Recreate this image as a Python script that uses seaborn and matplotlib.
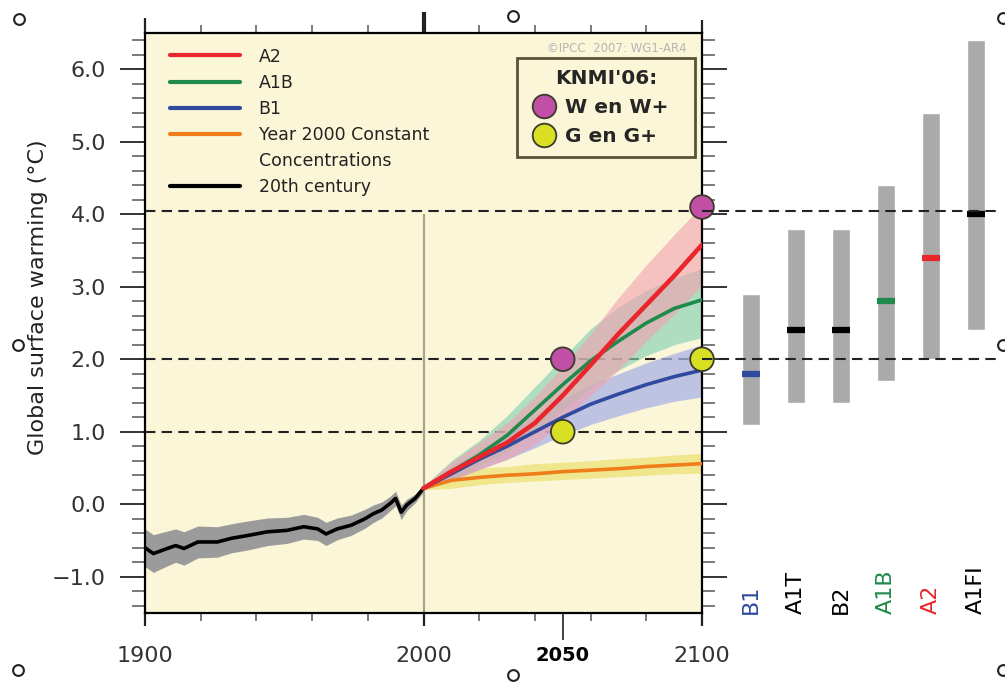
import numpy as np
import pandas as pd
import matplotlib
matplotlib.use("Agg")
import matplotlib.pyplot as plt
import seaborn as sns
from matplotlib.lines import Line2D
from matplotlib.ticker import MultipleLocator, FuncFormatter

# =====================================================
# DATA
# =====================================================

hist_years = [1900, 1903, 1908, 1911, 1914, 1919, 1926, 1931, 1937, 1944, 1951,
              1957, 1962, 1965, 1969, 1974, 1979, 1982, 1985, 1988, 1990, 1992,
              1994, 1997, 2000]
hist_temp = [-0.60, -0.68, -0.61, -0.57, -0.61, -0.52, -0.52, -0.47, -0.43, -0.38,
             -0.36, -0.31, -0.34, -0.41, -0.34, -0.29, -0.20, -0.13, -0.08, 0.01,
             0.08, -0.11, -0.01, 0.08, 0.22]
hist_spread = [0.26, 0.26, 0.24, 0.23, 0.23, 0.22, 0.21, 0.2, 0.2, 0.19, 0.18,
               0.17, 0.16, 0.16, 0.15, 0.14, 0.13, 0.12, 0.11, 0.1, 0.1, 0.1,
               0.08, 0.06, 0.05]

proj_years = [2000, 2010, 2020, 2030, 2040, 2050, 2060, 2070, 2080, 2090, 2100]
a2 = [0.22, 0.45, 0.65, 0.85, 1.12, 1.50, 1.92, 2.35, 2.75, 3.15, 3.58]
a2_lo = [0.20, 0.33, 0.48, 0.62, 0.82, 1.15, 1.50, 1.85, 2.25, 2.62, 3.02]
a2_hi = [0.25, 0.58, 0.85, 1.12, 1.48, 1.90, 2.35, 2.85, 3.30, 3.72, 4.12]
a1b = [0.22, 0.45, 0.68, 0.95, 1.30, 1.65, 1.98, 2.25, 2.50, 2.70, 2.82]
a1b_lo = [0.20, 0.35, 0.52, 0.72, 1.00, 1.30, 1.60, 1.85, 2.05, 2.20, 2.30]
a1b_hi = [0.25, 0.60, 0.88, 1.22, 1.62, 2.02, 2.42, 2.72, 2.95, 3.12, 3.25]
b1 = [0.22, 0.42, 0.62, 0.80, 1.00, 1.20, 1.38, 1.52, 1.65, 1.76, 1.85]
b1_lo = [0.20, 0.33, 0.48, 0.62, 0.78, 0.95, 1.10, 1.22, 1.33, 1.42, 1.48]
b1_hi = [0.25, 0.52, 0.75, 0.98, 1.22, 1.45, 1.65, 1.80, 1.95, 2.08, 2.20]
const = [0.22, 0.33, 0.37, 0.40, 0.42, 0.45, 0.47, 0.49, 0.52, 0.54, 0.56]
const_lo = [0.20, 0.22, 0.27, 0.30, 0.32, 0.34, 0.36, 0.38, 0.40, 0.42, 0.43]
const_hi = [0.25, 0.45, 0.50, 0.52, 0.56, 0.58, 0.60, 0.63, 0.65, 0.68, 0.70]

# KNMI'06 scenario points
knmi_years = [2050, 2100, 2050, 2100]
knmi_temp = [2.0, 4.1, 1.0, 2.0]
knmi_group = ["W en W+", "W en W+", "G en G+", "G en G+"]

# dashed reference levels
ref_levels = [1.0, 2.0, 4.05]

# likely ranges at 2100 per SRES marker scenario
sres_names = ["B1", "A1T", "B2", "A1B", "A2", "A1FI"]
sres_low = [1.1, 1.4, 1.4, 1.7, 2.0, 2.4]
sres_high = [2.9, 3.8, 3.8, 4.4, 5.4, 6.4]
sres_best = [1.8, 2.4, 2.4, 2.8, 3.4, 4.0]

# =====================================================
# STYLE
# =====================================================

RED = "#e8262b"
GREEN = "#1f8a4c"
BLUE = "#2f4a9e"
ORANGE = "#f07d1c"
BG = "#fbf6d8"
PINK = "#c24fa6"
YELLOW = "#d9e024"

sres_colors = [BLUE, "black", "black", GREEN, RED, "black"]

sns.set_theme(style="ticks")
plt.rcParams["font.family"] = ["DejaVu Sans"]

fig = plt.figure(figsize=(10.05, 6.84), dpi=100)
ax = fig.add_axes([145 / 1005, 1 - 613 / 684, 557 / 1005, 580 / 684])
ax.set_facecolor(BG)

# =====================================================
# BANDS + LINES
# =====================================================

h_lo = [t - s for t, s in zip(hist_temp, hist_spread)]
h_hi = [t + s for t, s in zip(hist_temp, hist_spread)]
ax.fill_between(hist_years, h_lo, h_hi, color="#9b9b9b", lw=0, zorder=2)

ax.fill_between(proj_years, const_lo, const_hi, color="#eee27a", alpha=0.8, lw=0, zorder=2)
ax.fill_between(proj_years, b1_lo, b1_hi, color="#a9b3e3", alpha=0.75, lw=0, zorder=2)
ax.fill_between(proj_years, a1b_lo, a1b_hi, color="#86d1b4", alpha=0.65, lw=0, zorder=2)
ax.fill_between(proj_years, a2_lo, a2_hi, color="#f2a0b0", alpha=0.6, lw=0, zorder=2)

df = pd.concat([
    pd.DataFrame({"year": hist_years, "temp": hist_temp, "scenario": "20th century"}),
    pd.DataFrame({"year": proj_years, "temp": const, "scenario": "const"}),
    pd.DataFrame({"year": proj_years, "temp": b1, "scenario": "B1"}),
    pd.DataFrame({"year": proj_years, "temp": a1b, "scenario": "A1B"}),
    pd.DataFrame({"year": proj_years, "temp": a2, "scenario": "A2"}),
])
palette = {"20th century": "black", "const": ORANGE, "B1": BLUE, "A1B": GREEN, "A2": RED}
for i, (name, sub) in enumerate(df.groupby("scenario", sort=False)):
    sns.lineplot(data=sub, x="year", y="temp", color=palette[name],
                 lw=3.3 if name == "A2" else 2.6, estimator=None,
                 ax=ax, zorder=3 + i, legend=False)

# vertical marker at 2000 and dashed levels
ax.vlines(2000, -1.5, 4.0, color="#a9a48a", lw=1.6, zorder=1)
for lev in ref_levels:
    ax.axhline(lev, color="#222222", lw=1.5, ls=(0, (5, 3)), zorder=1)

# KNMI points
sns.scatterplot(x=knmi_years, y=knmi_temp, hue=knmi_group,
                palette={"W en W+": PINK, "G en G+": YELLOW},
                s=290, edgecolor="#3b3b2b", linewidth=1.3, ax=ax,
                legend=False, zorder=10, clip_on=False)

# =====================================================
# AXES
# =====================================================

ax.set_xlim(1900, 2100)
ax.set_ylim(-1.5, 6.5)
ax.set_xlabel("")
ax.set_ylabel("Global surface warming (°C)", fontsize=16, color="#222222")
ax.yaxis.set_label_coords(-0.175, 0.545)

ax.set_xticks([1900, 2000, 2050, 2100])
ax.set_xticklabels(["1900", "2000", "2050", "2100"])
ax.xaxis.set_minor_locator(MultipleLocator(20))
ax.yaxis.set_major_locator(MultipleLocator(1))
ax.yaxis.set_minor_locator(MultipleLocator(0.2))
ax.yaxis.set_major_formatter(FuncFormatter(lambda v, p: f"{v:.1f}".replace("-", "\u2212")))

for s in ax.spines.values():
    s.set_visible(True)
    s.set_linewidth(1.6)
    s.set_color("black")

ax.tick_params(axis="y", which="major", direction="out", length=18, width=1.4,
               left=True, right=True, labelsize=16, labelcolor="#333333",
               color="#333333", pad=10)
ax.tick_params(axis="y", which="minor", direction="out", length=9.5, width=1.1,
               left=True, right=True, color="#555555")
ax.tick_params(axis="x", which="major", direction="out", length=9.5, width=1.6,
               bottom=True, top=True, labelsize=16, labelcolor="#333333",
               color="#222222", pad=14)
ax.tick_params(axis="x", which="minor", direction="out", length=5.5, width=1.1,
               bottom=True, top=True, color="#555555")

xt = ax.xaxis.get_major_ticks()
# 2000: thick top tick
xt[1].tick2line.set_markersize(15)
xt[1].tick2line.set_markeredgewidth(3)
# 2050: long bottom tick, bold label, no top tick
xt[2].tick1line.set_markersize(19.5)
xt[2].tick1line.set_markeredgewidth(1.2)
xt[2].tick2line.set_visible(False)
xt[0].tick2line.set_markersize(11)
lab = ax.get_xticklabels()[2]
lab.set_fontweight("bold")
lab.set_fontsize(14)
lab.set_color("black")

# =====================================================
# LEGENDS
# =====================================================

handles = [
    Line2D([], [], color=RED, lw=3),
    Line2D([], [], color=GREEN, lw=3),
    Line2D([], [], color=BLUE, lw=3),
    Line2D([], [], color=ORANGE, lw=3),
    Line2D([], [], color="none", lw=3),
    Line2D([], [], color="black", lw=3),
]
labels = ["A2", "A1B", "B1", "Year 2000 Constant", "Concentrations", "20th century"]
leg1 = ax.legend(handles, labels, loc="upper left", bbox_to_anchor=(0.045, 0.975),
                 frameon=False, fontsize=12.5, handlelength=4.0, handletextpad=1.1,
                 labelspacing=0.47, borderaxespad=0, borderpad=0)
for t in leg1.get_texts():
    t.set_color("#222222")

k_handles = [
    Line2D([], [], marker="o", ls="none", markersize=17, markerfacecolor=PINK,
           markeredgecolor="#3b3b2b", markeredgewidth=1.3),
    Line2D([], [], marker="o", ls="none", markersize=17, markerfacecolor=YELLOW,
           markeredgecolor="#3b3b2b", markeredgewidth=1.3),
]
box_x0 = (517 - 145) / 557
box_w = 178 / 557
box_h = 100 / 580
leg2 = ax.legend(k_handles, ["W en W+", "G en G+"], title="KNMI'06:",
                 loc="upper left", bbox_to_anchor=(box_x0, 0.957 - box_h, box_w, box_h),
                 mode="expand", borderaxespad=0,
                 frameon=True, fancybox=False, edgecolor="#5b5337", facecolor=BG,
                 framealpha=1, prop={"weight": "bold", "size": 14.5},
                 title_fontproperties={"weight": "bold", "size": 14.5},
                 handletextpad=0.25, handlelength=1.6, borderpad=0.55,
                 labelspacing=0.5)
leg2.get_frame().set_linewidth(2)
leg2.set_zorder(11)
ax.add_artist(leg1)

ax.text(0.973, 0.974, "©IPCC  2007: WG1-AR4", transform=ax.transAxes,
        ha="right", va="center", fontsize=8.5, color="#b5b5b5")

# =====================================================
# RIGHT PANEL: 2100 ranges
# =====================================================

ax2 = fig.add_axes([702 / 1005, 1 - 613 / 684, 303 / 1005, 580 / 684])
ax2.set_xlim(-1.089, 5.644)
ax2.set_ylim(-1.5, 6.5)
ax2.patch.set_visible(False)
ax2.axis("off")

xpos = np.arange(len(sres_names))
ax2.bar(xpos, np.array(sres_high) - np.array(sres_low), bottom=sres_low,
        width=0.4, color="#aaaaaa", zorder=1)
ax2.hlines(sres_best, xpos - 0.2, xpos + 0.2, colors=sres_colors, lw=4.5, zorder=2)
for lev in ref_levels[1:]:
    ax2.axhline(lev, xmin=0, xmax=0.985, color="#222222", lw=1.5, ls=(0, (5, 3)), zorder=3)
for x, name, c in zip(xpos, sres_names, sres_colors):
    ax2.text(x, -1.52, name, rotation=90, ha="center", va="bottom",
             fontsize=16, color=c)

# =====================================================
# CORNER HANDLES
# =====================================================

ov = fig.add_axes([0, 0, 1, 1], zorder=-1)
ov.set_xlim(0, 1005)
ov.set_ylim(684, 0)
ov.axis("off")
ov.scatter([19, 513, 1003, 18, 1003, 18, 513, 1003],
           [19, 16, 18, 345, 345, 670, 675, 670],
           s=60, facecolor="white", edgecolor="#222222", linewidth=1.5, clip_on=False)

fig.savefig("out.png", dpi=100)
plt.close(fig)
